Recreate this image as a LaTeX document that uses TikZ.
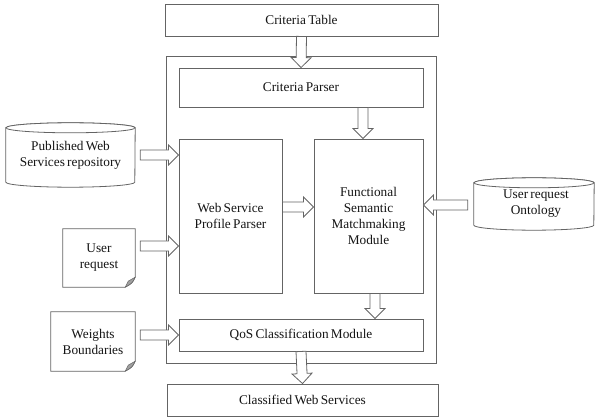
\documentclass[tikz,border=0pt]{standalone}
\usepackage{fontspec}
\setmainfont{Liberation Serif}
\usetikzlibrary{calc}

\definecolor{edge}{RGB}{100,100,100}
\definecolor{ink}{RGB}{20,20,20}
\definecolor{foldgray}{RGB}{160,160,160}

\newcommand\labelfont{\fontsize{13.3}{16}\selectfont\spaceskip=0.17em plus 0.05em\relax}

\tikzset{
  every node/.style={font=\labelfont, text=ink, align=center, inner sep=0pt},
  box/.style={draw=edge, line width=0.9pt, fill=white},
  frame/.style={draw=edge, line width=0.9pt},
  blk/.style={draw=edge, line width=0.8pt, fill=white, line join=miter},
  cylline/.style={draw=edge, line width=0.8pt, fill=white},
  docline/.style={draw=edge, line width=0.8pt, fill=white},
}

% Block arrow from #1 to #2 (tip at #2): shaft 10pt, head 20pt wide, 10pt long
\newcommand\blockarrow[2]{%
  \path (#1) coordinate (ba-s) (#2) coordinate (ba-e);
  \path ($(ba-e)!10pt!(ba-s)$) coordinate (ba-h);
  \draw[blk] ($(ba-s)!5pt!90:(ba-e)$) -- ($(ba-h)!5pt!-90:(ba-s)$)
    -- ($(ba-h)!10pt!-90:(ba-s)$) -- (ba-e) -- ($(ba-h)!10pt!90:(ba-s)$)
    -- ($(ba-h)!5pt!90:(ba-s)$) -- ($(ba-s)!5pt!-90:(ba-e)$) -- cycle;}

% Cylinder outline around a named node (#1), half-width #2
\newcommand\repocyl[2]{%
  \draw[cylline] (#1.north west) -- (#1.south west)
    arc[start angle=180, end angle=360, x radius=#2, y radius=5pt]
    -- (#1.north east) arc[start angle=0, end angle=180, x radius=#2, y radius=5pt] -- cycle;
  \draw[cylline] (#1.north) ellipse[x radius=#2, y radius=5pt];}

% Document outline with a folded bottom-right corner around node (#1)
\newcommand\foldeddoc[1]{%
  \draw[docline] (#1.north west) -- (#1.north east) -- ($(#1.south east)+(0,10pt)$)
    .. controls ($(#1.south east)+(-3pt,4pt)$) .. ($(#1.south east)+(-10pt,0)$)
    -- (#1.south west) -- cycle;
  \fill[foldgray, draw=edge, line width=0.5pt] ($(#1.south east)+(0,10pt)$)
    -- ($(#1.south east)+(-7pt,6pt)$) -- ($(#1.south east)+(-10pt,0)$)
    .. controls ($(#1.south east)+(-3pt,4pt)$) .. cycle;}

\begin{document}
\begin{tikzpicture}[x=1pt, y=-1pt]
  \useasboundingbox (0,0) rectangle (595,417);

  % enclosing frame
  \node[frame, minimum width=270pt, minimum height=307pt] (outer) at (301,209.5) {};

  % main blocks
  \node[box, minimum width=273pt, minimum height=32pt] (ct) at (301.5,20) {Criteria Table};
  \node[box, minimum width=244pt, minimum height=39pt] (cp) at (301,87.5) {Criteria Parser};
  \node[box, minimum width=103pt, minimum height=154pt] (ws) at (230.5,216) {Web Service\\Profile Parser};
  \node[box, minimum width=109pt, minimum height=154pt] (fs) at (368.5,216) {Functional\\Semantic\\Matchmaking\\Module};
  \node[box, minimum width=244pt, minimum height=32pt] (qos) at (301,335) {QoS Classification Module};
  \node[box, minimum width=271pt, minimum height=32pt] (cw) at (302.5,400) {Classified Web Services};

  % repositories
  \node[minimum width=129pt, minimum height=54pt] (pws) at (70.5,155) {};
  \repocyl{pws}{64.5pt}
  \node at (pws.center) {Published Web\\Services repository};

  \node[minimum width=120pt, minimum height=42pt] (ont) at (534,204) {};
  \repocyl{ont}{60pt}
  \node at ($(ont.center)+(2pt,0)$) {User request\\Ontology};

  % input documents
  \node[minimum width=72pt, minimum height=58pt] (ur) at (99,258) {};
  \foldeddoc{ur}
  \node at (ur.center) {User\\request};

  \node[minimum width=84pt, minimum height=59pt] (wb) at (93,341.5) {};
  \foldeddoc{wb}
  \node at (wb.center) {Weights\\Boundaries};

  % anchor points for offset arrows
  \coordinate (pm) at ($(fs.north)+(-5.5pt,0)$);
  \coordinate (fq) at ($(fs.south)+(6.5pt,0)$);
  \coordinate (wf) at ($(ws.east)+(0,9pt)$);
  \coordinate (of) at ($(ont.west)+(-6pt,-1pt)$);
  \coordinate (pw) at ($(pws.east)+(5pt,0)$);
  \coordinate (uw) at ($(ur.east)+(5pt,12pt)$);
  \coordinate (wq) at ($(wb.east |- qos.west)+(5pt,0)$);

  % connectors
  \blockarrow{ct.south}{cp.north}
  \blockarrow{cp.south -| pm}{pm}
  \blockarrow{wf}{fs.west |- wf}
  \blockarrow{of}{fs.east |- of}
  \blockarrow{fq}{qos.north -| fq}
  \blockarrow{qos.south}{cw.north}
  \blockarrow{pw}{ws.west |- pw}
  \blockarrow{uw}{ws.west |- uw}
  \blockarrow{wq}{qos.west}
\end{tikzpicture}
\end{document}
